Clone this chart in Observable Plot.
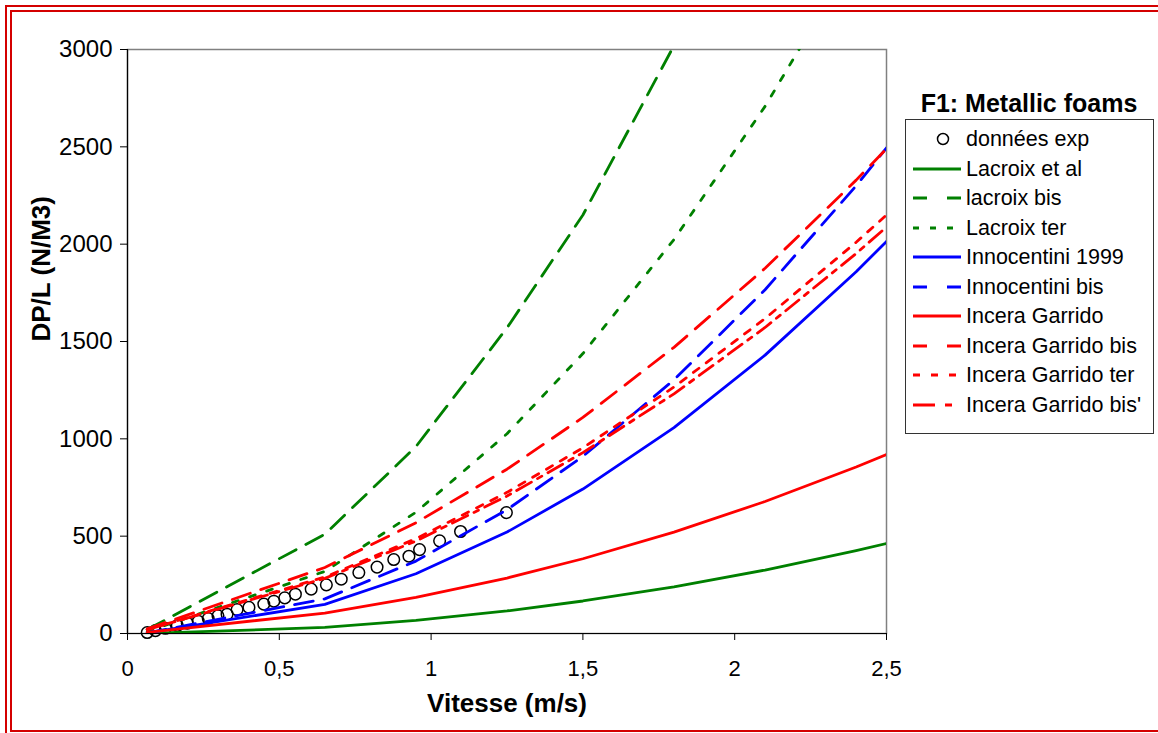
<!DOCTYPE html>
<html>
<head>
<meta charset="utf-8">
<script src="https://cdn.jsdelivr.net/npm/d3@7"></script>
<script src="https://cdn.jsdelivr.net/npm/@observablehq/plot@0.6"></script>
<style>
  html, body { margin: 0; padding: 0; background: #fff; overflow: hidden; }
  #wrap { position: relative; width: 1158px; height: 733px; overflow: hidden; background: #fff;
          font-family: "Liberation Sans", Arial, sans-serif; }
  .frame-outer { position: absolute; left: 5px; top: 5px; width: 1250px; height: 732px; box-sizing: border-box;
                 border: 2px solid #d40000; }
  .frame-inner { position: absolute; left: 10px; top: 10px; width: 1250px; height: 722px; box-sizing: border-box;
                 border: 2px solid #d40000; }
  #plot { position: absolute; left: 0; top: 0; }
  #plot g[aria-label*="y-axis"] text, #plot g[text-anchor="end"] text { font-size: 24px; }
  #legend-title { position: absolute; left: 905px; width: 248px; top: 88px; text-align: center;
                  font-weight: bold; font-size: 25px; line-height: 30px; color: #000; }
  #legend { position: absolute; left: 905px; top: 119px; width: 249px; height: 315px; box-sizing: border-box;
            border: 1px solid #333; background: #fff; }
  .row { position: absolute; left: 0; height: 30px; width: 100%; }
  .row svg { position: absolute; left: 6px; top: 0; }
  .row span { position: absolute; left: 60px; top: 0; font-size: 21.5px; line-height: 30px; color: #000; white-space: nowrap; }
</style>
</head>
<body>
<div id="wrap">
  <div class="frame-outer"></div>
  <div class="frame-inner"></div>
  <div id="plot"></div>
  <div id="legend-title">F1: Metallic foams</div>
  <div id="legend"></div>
</div>
<script>
// ---- Data ----
const xTicks = [0, 0.5, 1, 1.5, 2, 2.5];
const yTicks = [0, 500, 1000, 1500, 2000, 2500, 3000];

// experimental points
const vitesseExp = [0.065, 0.092, 0.125, 0.164, 0.197, 0.233, 0.266, 0.298, 0.328, 0.361, 0.400, 0.449, 0.482,
                    0.518, 0.553, 0.605, 0.655, 0.704, 0.762, 0.822, 0.877, 0.927, 0.962, 1.028, 1.097, 1.248];
const dpExp = [5, 15, 27, 41, 53, 63, 77, 91, 99, 123, 134, 151, 166,
               183, 202, 228, 250, 279, 313, 341, 380, 397, 431, 476, 524, 621];

// model curves (sampled velocities)
const vitesseModel = [0.065, 0.65, 0.95, 1.25, 1.5, 1.8, 2.1, 2.4, 2.5];
const lacroixEtAl = [0.3, 31, 67, 116, 167, 240, 326, 426, 462];
const lacroixBis = [20, 510, 960, 1570, 2150, 3020, 4079, 5236, 5655];
const lacroixTer = [11, 319, 623, 1026, 1438, 2024, 2708, 3492, 3775];
const innocentini1999 = [3, 150, 307, 521, 742, 1058, 1430, 1858, 2014];
const innocentiniBis = [3, 178, 372, 636, 910, 1303, 1766, 2300, 2494];
const inceraGarrido = [6, 105, 185, 285, 384, 521, 678, 855, 919];
const inceraGarridoBis = [24, 339, 569, 844, 1110, 1470, 1876, 2329, 2490];
const inceraGarridoTer = [20, 290, 487, 725, 954, 1266, 1618, 2010, 2150];
const inceraGarridoBisPrime = [20, 283, 475, 706, 929, 1231, 1572, 1952, 2088];

const seriesNames = ["Lacroix et al", "lacroix bis", "Lacroix ter", "Innocentini 1999", "Innocentini bis",
                     "Incera Garrido", "Incera Garrido bis", "Incera Garrido ter", "Incera Garrido bis'"];
const seriesValues = [lacroixEtAl, lacroixBis, lacroixTer, innocentini1999, innocentiniBis,
                      inceraGarrido, inceraGarridoBis, inceraGarridoTer, inceraGarridoBisPrime];
const expName = "données exp";

// ---- Styles ----
const GREEN = "#008000", BLUE = "#0000ff", RED = "#ff0000";
const seriesStyles = [
  {stroke: GREEN, dash: null},
  {stroke: GREEN, dash: "19,11"},
  {stroke: GREEN, dash: "6,12"},
  {stroke: BLUE, dash: null},
  {stroke: BLUE, dash: "19,11"},
  {stroke: RED, dash: null},
  {stroke: RED, dash: "19,11"},
  {stroke: RED, dash: "7,9"},
  {stroke: RED, dash: "17,7,5,7"}
];
const legendDash = [null, "14,20", "6,11", null, "14,20", null, "14,20", "7,11", "22,10,7,10"];

const expData = vitesseExp.map((v, i) => ({v, dp: dpExp[i]}));
const fmt = d => String(d).replace(".", ",");

const lineMarks = seriesValues.map((vals, k) => {
  const data = vitesseModel.map((v, i) => ({v, dp: vals[i]}));
  return Plot.line(data, {
    x: "v", y: "dp", stroke: seriesStyles[k].stroke, strokeWidth: 2.8,
    strokeDasharray: seriesStyles[k].dash || undefined, clip: true
  });
});

const chart = Plot.plot({
  width: 1158, height: 733,
  marginLeft: 127, marginRight: 272, marginTop: 49, marginBottom: 100,
  style: {fontFamily: "'Liberation Sans', Arial, sans-serif", fontSize: "22px", background: "transparent", color: "#000"},
  x: {domain: [0, 2.5], label: null},
  y: {domain: [0, 3000], label: null},
  marks: [
    Plot.frame({stroke: "#808080", strokeWidth: 1.5}),
    Plot.axisY({ticks: yTicks, tickSize: 7, tickPadding: 8, label: null, tickFormat: d => String(d), stroke: "#000"}),
    Plot.axisX({ticks: xTicks, tickSize: 7, tickPadding: 20, label: null, tickFormat: fmt, stroke: "#000"}),
    Plot.ruleX([0], {stroke: "#000", strokeWidth: 1.2}),
    Plot.ruleY([0], {stroke: "#000", strokeWidth: 1.2}),
    Plot.dot(expData, {x: "v", y: "dp", r: 5.8, stroke: "#000", strokeWidth: 1.5, fill: "none"}),
    ...lineMarks,
    Plot.text(["Vitesse (m/s)"], {text: d => d, frameAnchor: "bottom", dy: 70, fontSize: 26, fontWeight: "bold", lineAnchor: "middle"}),
    Plot.text(["DP/L (N/M3)"], {text: d => d, frameAnchor: "left", dx: -86, rotate: -90, fontSize: 26, fontWeight: "bold", lineAnchor: "middle"})
  ]
});
document.getElementById("plot").appendChild(chart);

// ---- Legend ----
const legend = d3.select("#legend");
const rowH = 29.5;
const entries = [{name: expName, marker: true}].concat(seriesNames.map((n, k) => ({name: n, k})));
entries.forEach((e, i) => {
  const row = legend.append("div").attr("class", "row").style("top", (4 + i * rowH) + "px");
  const svg = row.append("svg").attr("width", 50).attr("height", 30);
  if (e.marker) {
    svg.append("circle").attr("cx", 31).attr("cy", 15).attr("r", 5.5)
      .attr("fill", "none").attr("stroke", "#000").attr("stroke-width", 1.5);
  } else {
    const st = seriesStyles[e.k];
    svg.append("line").attr("x1", 1).attr("x2", 49).attr("y1", 15).attr("y2", 15)
      .attr("stroke", st.stroke).attr("stroke-width", 3)
      .attr("stroke-dasharray", legendDash[e.k] || null);
  }
  row.append("span").text(e.name);
});
</script>
</body>
</html>
